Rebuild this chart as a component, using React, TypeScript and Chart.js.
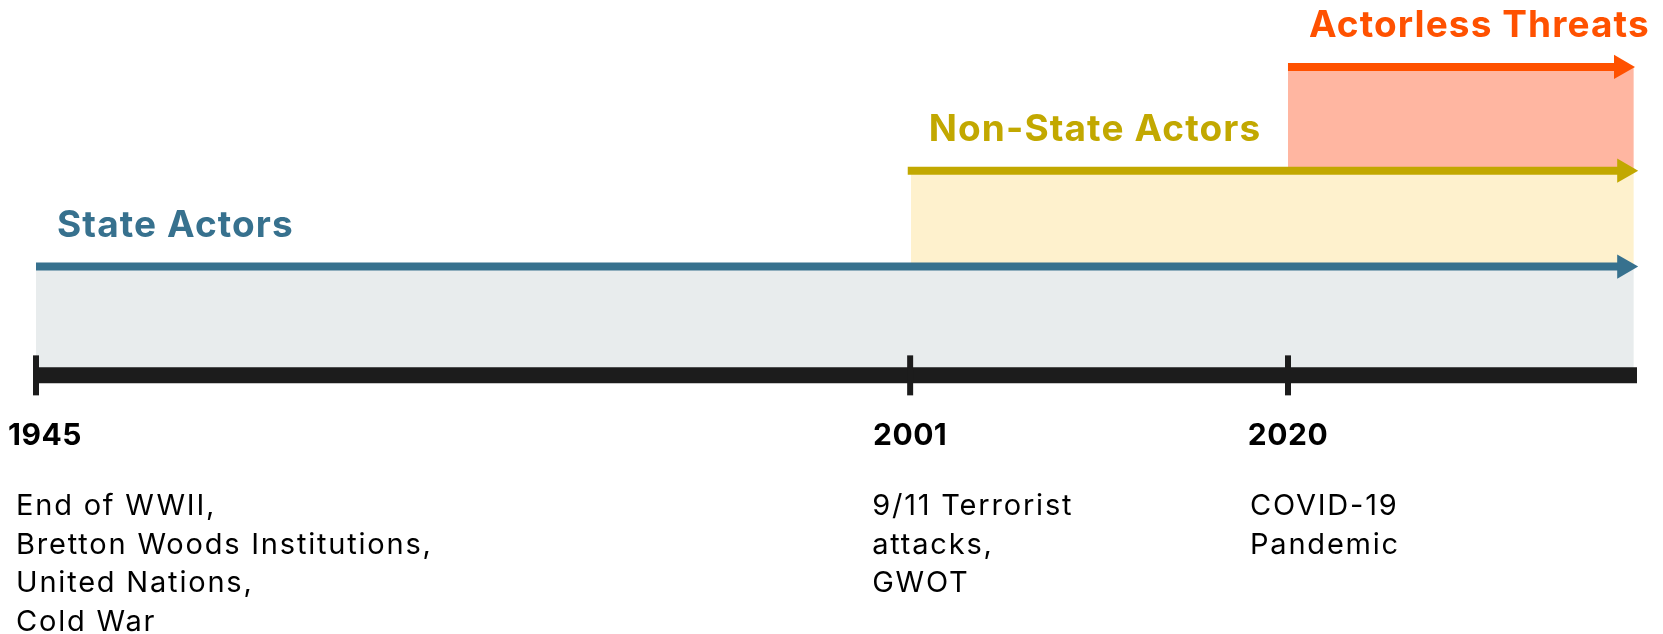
import React, { useEffect, useRef } from "react";
import { Chart, registerables } from "chart.js";

Chart.register(...registerables);

// Timeline events (positions along the not-to-scale timeline, 0..100)
const eventYears = ["1945", "2001", "2020"];
const eventPositions = [0, 54.6, 78.2];
const eventNotes = [
  ["End of WWII,", "Bretton Woods Institutions,", "United Nations,", "Cold War"],
  ["9/11 Terrorist", "attacks,", "GWOT"],
  ["COVID-19", "Pandemic"],
];

// Actor eras
const actorNames = ["State Actors", "Non-State Actors", "Actorless Threats"];
const actorStarts = [0, 54.45, 78.2];
const actorLevels = [1.09, 2.05, 3.09];
const arrowEnds = [99.2, 99.2, 99.0];
const bandEnd = 99.8;
const timelineStart = 0;
const timelineEnd = 100;

const lineColors = ["#37718e", "#c2a800", "#ff5100"];
const bandColors = ["#e8eced", "#fef1cd", "#ffb6a1"];
const axisColor = "#1c1c1c";

const textPlugin = {
  id: "timelineText",
  afterDatasetsDraw(chart: any) {
    const { ctx, scales } = chart;
    const x = scales.x;
    const y = scales.y;
    ctx.save();
    ctx.textBaseline = "alphabetic";
    ctx.textAlign = "left";
    actorNames.forEach((name, i) => {
      ctx.font = "700 37px Inter";
      (ctx as any).letterSpacing = "1.1px";
      ctx.fillStyle = lineColors[i];
      ctx.fillText(
        name,
        x.getPixelForValue(actorStarts[i]) + 21,
        y.getPixelForValue(actorLevels[i]) - 30
      );
    });
    const axisY = y.getPixelForValue(0);
    eventYears.forEach((yr, i) => {
      const px = x.getPixelForValue(eventPositions[i]);
      ctx.font = "700 30px Inter";
      (ctx as any).letterSpacing = "0.5px";
      ctx.fillStyle = "#000000";
      const w = ctx.measureText(yr).width;
      ctx.fillText(yr, Math.max(8, px - w / 2), axisY + 70);
      ctx.font = "400 29px Inter";
      (ctx as any).letterSpacing = "1.8px";
      const left = Math.max(16, px - 38);
      eventNotes[i].forEach((line, j) => {
        ctx.fillText(line, left, axisY + 140 + j * 38.5);
      });
    });
    ctx.restore();
  },
};

export default function App() {
  const ref = useRef<HTMLCanvasElement>(null);

  useEffect(() => {
    document.body.style.margin = "0";
    const datasets: any[] = [];

    actorNames.forEach((name, i) => {
      datasets.push({
        label: name + " band",
        data: [
          { x: actorStarts[i] + 0.2 * (i === 1 ? 1 : 0), y: actorLevels[i] },
          { x: bandEnd, y: actorLevels[i] },
        ],
        borderWidth: 0,
        borderColor: "transparent",
        backgroundColor: bandColors[i],
        fill: { value: i === 0 ? 0 : actorLevels[i - 1] },
        pointRadius: 0,
        order: 10,
      });
    });

    datasets.push({
      label: "axis",
      data: [
        { x: timelineStart, y: 0 },
        { x: timelineEnd, y: 0 },
      ],
      borderColor: axisColor,
      borderWidth: 16,
      borderCapStyle: "butt",
      pointRadius: 0,
      fill: false,
      order: 2,
      clip: false,
    });

    actorNames.forEach((name, i) => {
      datasets.push({
        label: name,
        data: [
          { x: actorStarts[i], y: actorLevels[i] },
          { x: arrowEnds[i], y: actorLevels[i] },
        ],
        borderColor: lineColors[i],
        borderWidth: 8,
        borderCapStyle: "butt",
        pointRadius: [0, 14],
        pointHoverRadius: [0, 14],
        pointStyle: "triangle",
        pointRotation: 90,
        pointBackgroundColor: lineColors[i],
        pointBorderColor: lineColors[i],
        pointBorderWidth: 0,
        fill: false,
        order: 1,
        clip: false,
      });
    });

    datasets.push({
      label: "ticks",
      data: eventPositions.map((p) => ({ x: p, y: 0 })),
      showLine: false,
      pointStyle: "line",
      pointRotation: 90,
      pointRadius: 20,
      pointHoverRadius: 20,
      pointBorderWidth: 6,
      pointBorderColor: axisColor,
      pointBackgroundColor: axisColor,
      order: 0,
      clip: false,
    });

    const chart = new Chart(ref.current as HTMLCanvasElement, {
      type: "line",
      data: { datasets },
      options: {
        animation: false,
        responsive: true,
        maintainAspectRatio: false,
        events: [],
        layout: { padding: { left: 36, right: 24, top: 25, bottom: 59 } },
        scales: {
          x: { type: "linear", min: timelineStart, max: timelineEnd, display: false },
          y: { type: "linear", min: -2, max: 3.5, display: false },
        },
        plugins: {
          legend: { display: false },
          tooltip: { enabled: false },
        },
      },
      plugins: [textPlugin],
    });
    return () => chart.destroy();
  }, []);

  return (
    <div style={{ width: 1663, height: 634, position: "relative" }}>
      <canvas ref={ref} />
    </div>
  );
}
